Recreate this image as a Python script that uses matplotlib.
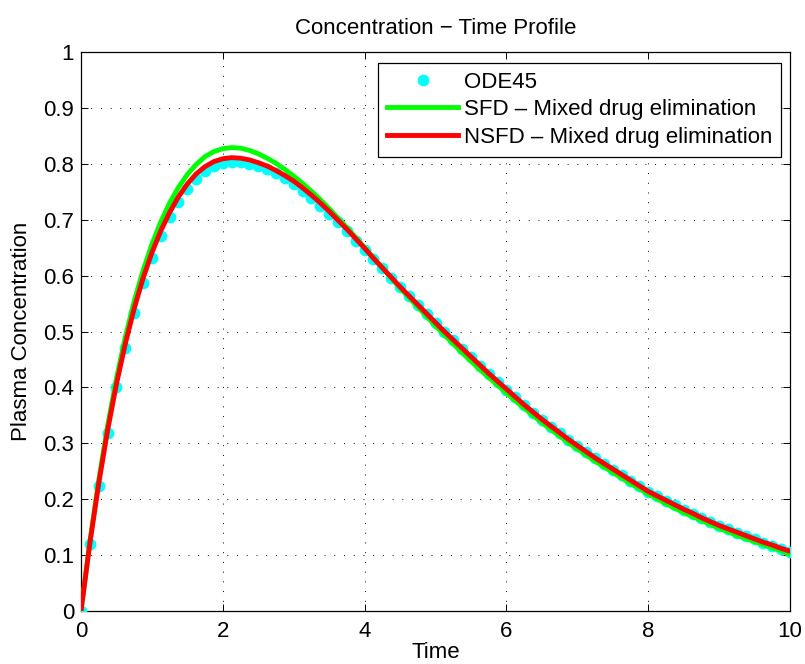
import matplotlib
matplotlib.use("Agg")
import matplotlib.pyplot as plt
import numpy as np

plt.rcParams['font.family'] = ['Liberation Sans', 'DejaVu Sans']

# time grid of the ODE45 output (step 0.125)
time_start, time_stop, time_step = 0.0, 10.0, 0.125

ode45 = [0.000, 0.119, 0.224, 0.318, 0.400, 0.471, 0.533, 0.586, 0.632, 0.671,
         0.704, 0.732, 0.755, 0.773, 0.787, 0.796, 0.801, 0.803, 0.803, 0.800,
         0.796, 0.790, 0.783, 0.774, 0.764, 0.752, 0.739, 0.725, 0.711, 0.695,
         0.679, 0.662, 0.646, 0.629, 0.613, 0.596, 0.579, 0.563, 0.547, 0.531,
         0.515, 0.499, 0.484, 0.469, 0.454, 0.439, 0.424, 0.410, 0.396, 0.382,
         0.368, 0.355, 0.342, 0.330, 0.318, 0.306, 0.295, 0.284, 0.273, 0.263,
         0.253, 0.243, 0.233, 0.223, 0.213, 0.205, 0.197, 0.189, 0.181, 0.174,
         0.166, 0.159, 0.152, 0.146, 0.140, 0.134, 0.128, 0.122, 0.117, 0.111,
         0.106]

sfd = [0.000, 0.124, 0.234, 0.331, 0.416, 0.490, 0.554, 0.609, 0.656, 0.696,
       0.730, 0.758, 0.781, 0.799, 0.813, 0.822, 0.827, 0.829, 0.828, 0.824,
       0.818, 0.810, 0.801, 0.790, 0.778, 0.765, 0.751, 0.736, 0.720, 0.703,
       0.686, 0.668, 0.650, 0.632, 0.614, 0.596, 0.578, 0.561, 0.544, 0.527,
       0.510, 0.494, 0.478, 0.462, 0.447, 0.432, 0.418, 0.404, 0.390, 0.376,
       0.363, 0.350, 0.337, 0.325, 0.313, 0.301, 0.290, 0.279, 0.268, 0.258,
       0.248, 0.238, 0.228, 0.219, 0.209, 0.201, 0.192, 0.184, 0.176, 0.169,
       0.162, 0.155, 0.148, 0.142, 0.135, 0.130, 0.124, 0.119, 0.113, 0.108,
       0.101]

nsfd = [0.000, 0.121, 0.228, 0.323, 0.406, 0.478, 0.541, 0.595, 0.641, 0.680,
        0.713, 0.741, 0.764, 0.782, 0.795, 0.804, 0.809, 0.811, 0.810, 0.807,
        0.802, 0.796, 0.788, 0.779, 0.769, 0.757, 0.744, 0.730, 0.715, 0.699,
        0.683, 0.666, 0.649, 0.631, 0.614, 0.597, 0.580, 0.564, 0.548, 0.532,
        0.516, 0.500, 0.485, 0.470, 0.455, 0.440, 0.425, 0.411, 0.397, 0.383,
        0.369, 0.356, 0.343, 0.331, 0.319, 0.307, 0.296, 0.285, 0.274, 0.264,
        0.254, 0.244, 0.234, 0.224, 0.214, 0.206, 0.198, 0.190, 0.182, 0.175,
        0.167, 0.160, 0.153, 0.147, 0.141, 0.135, 0.129, 0.123, 0.118, 0.112,
        0.107]

labels = ["ODE45", "SFD \u2013 Mixed drug elimination", "NSFD \u2013 Mixed drug elimination"]
xticks = [0, 2, 4, 6, 8, 10]
yticks = [0, 0.1, 0.2, 0.3, 0.4, 0.5, 0.6, 0.7, 0.8, 0.9, 1]
ytick_labels = ["0", "0.1", "0.2", "0.3", "0.4", "0.5", "0.6", "0.7", "0.8", "0.9", "1"]

t = np.arange(len(ode45)) * time_step + time_start

fig = plt.figure(figsize=(8.05, 6.64), dpi=100)
ax = fig.add_axes([81/805, 1-611/664, 709/805, 559/664])

ax.plot(t, ode45, 'o', color=(0, 1, 1), markersize=8.5, markeredgewidth=0, label=labels[0], zorder=3)
ax.plot(t, sfd, '-', color=(0, 1, 0), lw=3.5, label=labels[1], zorder=4)
ax.plot(t, nsfd, '-', color=(1, 0, 0), lw=3.5, label=labels[2], zorder=5)

ax.set_xlim(0, 10)
ax.set_ylim(0, 1)
ax.set_xticks(xticks)
ax.set_yticks(yticks)
ax.set_yticklabels(ytick_labels)
ax.tick_params(direction='in', length=5, width=0.7, top=True, right=True,
               labelsize=16)
ax.tick_params(axis='x', pad=7)
ax.tick_params(axis='y', pad=5)
ax.grid(True, color='black', linestyle=(0, (1, 9)), linewidth=0.7)
for s in ax.spines.values():
    s.set_linewidth(0.9)

ax.set_title("Concentration \u2212 Time Profile", fontsize=16, pad=13)
ax.set_xlabel("Time", fontsize=16, labelpad=0)
ax.set_ylabel("Plasma Concentration", fontsize=16, labelpad=8)

leg = ax.legend(loc='upper right', bbox_to_anchor=(700/709, (611-62.7)/559),
                borderaxespad=0, fancybox=False, edgecolor='black', framealpha=1,
                fontsize=16, handlelength=3.2, handletextpad=0.25,
                labelspacing=0.3, borderpad=0.4, numpoints=1)
leg.get_frame().set_linewidth(0.9)

fig.savefig("out.png", dpi=100)
